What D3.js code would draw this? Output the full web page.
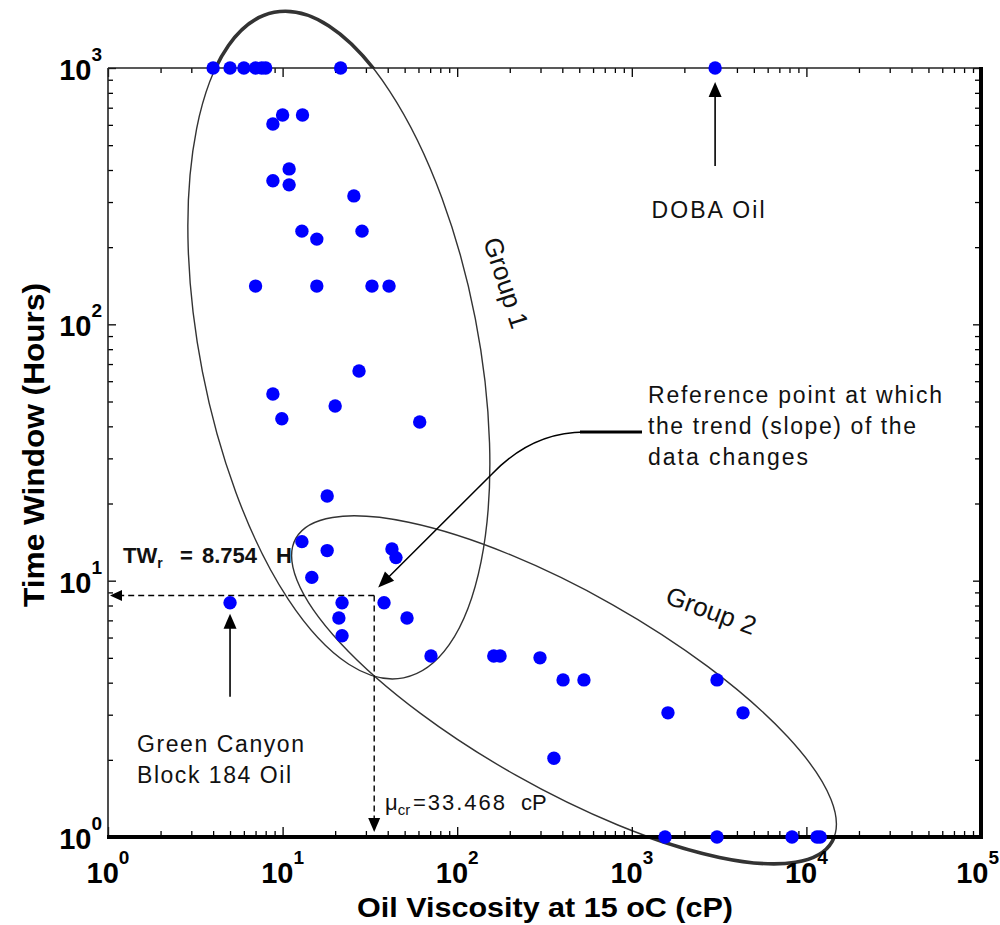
<!DOCTYPE html>
<html>
<head>
<meta charset="utf-8">
<script src="https://cdn.jsdelivr.net/npm/d3@7"></script>
<style>
  body { margin: 0; background: #fff; }
  svg { display: block; }
</style>
</head>
<body>
<svg id="chart" width="1000" height="925"></svg>
<script>
// Oil viscosity at 15 oC (cP) and the measured time window (hours), one entry per oil sample
const viscosity = [
  4, 5, 6, 7, 7.6, 8, 21.5, 3000,
  10, 13, 8.8, 10.9, 8.8, 10.9, 25.6, 12.9, 15.7, 28.5,
  7, 15.7, 32.5, 40.7, 27.4, 8.8, 20, 9.9, 61, 18,
  12.9, 18, 42.3, 44.6, 14.7, 21.9, 38.1, 5, 51.6, 21, 21.9,
  70.8, 162, 176, 298, 404, 532, 3076, 1611, 4335, 358,
  1550, 3076, 8270, 11500, 12000
];
const timeWindow = [
  1000, 1000, 1000, 1000, 1000, 1000, 1000, 1000,
  656, 656, 605, 404, 363, 350, 317, 231, 215, 231,
  141, 141, 141, 141, 65.8, 53.5, 48, 42.8, 41.6, 21.4,
  14.2, 13.1, 13.3, 12.3, 10.3, 8.2, 8.2, 8.2, 7.15, 7.15, 6.1,
  5.08, 5.08, 5.08, 5, 4.1, 4.1, 4.1, 3.05, 3.05, 2.03,
  1, 1, 1, 1, 1
];

// Axis decades (powers of ten)
const xTickExponents = [0, 1, 2, 3, 4, 5];
const yTickExponents = [0, 1, 2, 3];

// Reference point where the slope of the data changes
const muCritical = 33.468;   // cP
const twReference = 8.754;   // hours

// Annotated oils
const dobaOil = { visc: 3000, tw: 1000 };
const greenCanyonOil = { visc: 5, tw: 8.2 };

// Group envelopes: centre in data units
const group1Centre = { visc: 21, tw: 83 };
const group2Centre = { visc: 409, tw: 3.75 };

const svg = d3.select("#chart");
const plotLeft = 108, plotRight = 981, plotTop = 68, plotBottom = 837;

const x = d3.scaleLog().domain([1, 1e5]).range([plotLeft, plotRight]);
const y = d3.scaleLog().domain([1, 1000]).range([plotBottom, plotTop]);

const FONT = "'Liberation Sans', Arial, Helvetica, sans-serif";

// ---- group envelopes (ellipses) ----
const defs = svg.append("defs");
const outside = defs.append("clipPath").attr("id", "outside");
outside.append("rect").attr("x", 0).attr("y", 0).attr("width", 1000).attr("height", plotTop);
outside.append("rect").attr("x", 0).attr("y", plotBottom).attr("width", 1000).attr("height", 925 - plotBottom);

const ellipses = [
  { c: group1Centre, rx: 139, ry: 339, rot: -11 },
  { c: group2Centre, rx: 308, ry: 98, rot: 29.5 }
];
function drawEllipses(g, width) {
  g.selectAll("ellipse").data(ellipses).join("ellipse")
    .attr("cx", 0).attr("cy", 0)
    .attr("rx", d => d.rx).attr("ry", d => d.ry)
    .attr("transform", d => `translate(${x(d.c.visc)},${y(d.c.tw)}) rotate(${d.rot})`)
    .attr("fill", "none").attr("stroke", "#333").attr("stroke-width", width);
}
drawEllipses(svg.append("g"), 1.4);
drawEllipses(svg.append("g").attr("clip-path", "url(#outside)"), 3.6);

// ---- axes with log ticks pointing inward ----
function minorTicks(lo, hi) {
  const t = [];
  for (let p = lo; p < hi; p++) for (let k = 2; k <= 9; k++) t.push(k * Math.pow(10, p));
  return t;
}
const xMajor = xTickExponents.map(e => Math.pow(10, e));
const yMajor = yTickExponents.map(e => Math.pow(10, e));
const xMinor = minorTicks(0, 5);
const yMinor = minorTicks(0, 3);

function tickAxis(gen, scale, values, size, transform) {
  const g = svg.append("g").attr("transform", transform)
    .call(gen(scale).tickValues(values).tickSize(-size).tickFormat(""));
  g.select(".domain").remove();
  g.selectAll("line").attr("stroke", "#000").attr("stroke-width", 1.3);
}
tickAxis(d3.axisBottom, x, xMajor, 10, `translate(0,${plotBottom})`);
tickAxis(d3.axisBottom, x, xMinor, 6, `translate(0,${plotBottom})`);
tickAxis(d3.axisTop, x, xMajor, 9, `translate(0,${plotTop})`);
tickAxis(d3.axisTop, x, xMinor, 5, `translate(0,${plotTop})`);
tickAxis(d3.axisLeft, y, yMajor, 8, `translate(${plotLeft},0)`);
tickAxis(d3.axisLeft, y, yMinor, 5, `translate(${plotLeft},0)`);
tickAxis(d3.axisRight, y, yMajor, 8, `translate(${plotRight},0)`);
tickAxis(d3.axisRight, y, yMinor, 6, `translate(${plotRight},0)`);

// frame
const frame = svg.append("g").attr("stroke", "#000").attr("fill", "none");
frame.append("line").attr("x1", plotLeft).attr("x2", plotRight).attr("y1", plotTop).attr("y2", plotTop).attr("stroke-width", 1.6).attr("stroke", "#222");
frame.append("line").attr("x1", plotLeft).attr("x2", plotLeft).attr("y1", plotTop).attr("y2", plotBottom).attr("stroke-width", 1.6).attr("stroke", "#222");
frame.append("line").attr("x1", plotLeft - 1).attr("x2", plotRight + 2).attr("y1", plotBottom).attr("y2", plotBottom).attr("stroke-width", 4);
frame.append("line").attr("x1", plotRight).attr("x2", plotRight).attr("y1", plotTop - 1).attr("y2", plotBottom).attr("stroke-width", 4);

// tick labels 10^n (the last x label is kept inside the page edge)
const xLab = svg.append("g").attr("font-family", FONT).attr("font-weight", "bold");
xTickExponents.forEach((e, i) => {
  const last = i === xTickExponents.length - 1;
  const t = xLab.append("text")
    .attr("x", last ? 999 : x(Math.pow(10, e))).attr("y", 883)
    .attr("text-anchor", last ? "end" : "middle").attr("font-size", 29);
  t.append("tspan").text("10");
  t.append("tspan").attr("font-size", 19).attr("dy", -19).text(e);
});
const yLab = svg.append("g").attr("font-family", FONT).attr("font-weight", "bold");
yTickExponents.forEach(e => {
  const t = yLab.append("text").attr("x", 102).attr("y", y(Math.pow(10, e)) + 12)
    .attr("text-anchor", "end").attr("font-size", 29);
  t.append("tspan").text("10");
  t.append("tspan").attr("font-size", 19).attr("dy", -19).text(e);
});

// axis titles
svg.append("text").attr("x", 545).attr("y", 917).attr("text-anchor", "middle")
  .attr("font-family", FONT).attr("font-weight", "bold").attr("font-size", 28)
  .attr("textLength", 376).attr("lengthAdjust", "spacingAndGlyphs")
  .text("Oil Viscosity at 15 oC (cP)");
svg.append("text").attr("transform", "translate(44,445) rotate(-90)").attr("text-anchor", "middle")
  .attr("font-family", FONT).attr("font-weight", "bold").attr("font-size", 29)
  .attr("textLength", 324).attr("lengthAdjust", "spacingAndGlyphs")
  .text("Time Window (Hours)");

// ---- reference point guides ----
const rx = x(muCritical), ry = y(twReference);
const guides = svg.append("g").attr("stroke", "#000").attr("stroke-width", 1.4)
  .attr("stroke-dasharray", "6,4").attr("fill", "none");
guides.append("line").attr("x1", rx).attr("y1", ry).attr("x2", plotLeft + 12).attr("y2", ry);
guides.append("line").attr("x1", rx).attr("y1", ry).attr("x2", rx).attr("y2", plotBottom - 16);

function arrowHead(x1, y1, x2, y2, len, half) {
  const dx = x2 - x1, dy = y2 - y1, L = Math.hypot(dx, dy);
  const ux = dx / L, uy = dy / L;
  const bx = x2 - ux * len, by = y2 - uy * len;
  svg.append("path")
    .attr("d", `M${x2},${y2}L${bx - uy * half},${by + ux * half}L${bx + uy * half},${by - ux * half}Z`)
    .attr("fill", "#000");
}
arrowHead(rx, ry, plotLeft + 2, ry, 12, 5.5);
arrowHead(rx, ry, rx, plotBottom - 5, 14, 6);

// ---- data points ----
svg.append("g").selectAll("circle")
  .data(viscosity.map((v, i) => [v, timeWindow[i]]))
  .join("circle")
  .attr("cx", d => x(d[0])).attr("cy", d => y(d[1])).attr("r", 6.7)
  .attr("fill", "#0000ff");

// ---- annotations ----
const ann = svg.append("g").attr("stroke", "#000").attr("fill", "none");

// DOBA oil arrow
const dx0 = x(dobaOil.visc), dy0 = y(dobaOil.tw);
ann.append("line").attr("x1", dx0).attr("x2", dx0).attr("y1", dy0 + 98).attr("y2", dy0 + 24).attr("stroke-width", 1.6);
arrowHead(dx0, dy0 + 98, dx0, dy0 + 14, 15, 6.5);

// Green Canyon arrow
const gx = x(greenCanyonOil.visc), gy = y(greenCanyonOil.tw);
ann.append("line").attr("x1", gx).attr("x2", gx).attr("y1", gy + 94).attr("y2", gy + 24).attr("stroke-width", 1.6);
arrowHead(gx, gy + 94, gx, gy + 11, 15, 6.5);

// curved arrow to reference point
const tipX = rx + 4, tipY = ry - 8;
ann.append("path")
  .attr("d", `M640,432 L585,432 C545,432 515,450 492,474 L${tipX + 8},${tipY - 8}`)
  .attr("stroke-width", 1.5);
ann.append("line").attr("x1", 580).attr("x2", 642).attr("y1", 432).attr("y2", 432).attr("stroke-width", 3);
arrowHead(492, 474, tipX, tipY, 16, 6.5);

const txt = svg.append("g").attr("font-family", FONT).attr("fill", "#111");

txt.append("text").attr("x", 708).attr("y", 218).attr("text-anchor", "middle")
  .attr("font-size", 23).attr("textLength", 113).text("DOBA Oil");

[["Reference point at which", 403, 294], ["the trend (slope) of the", 434, 268], ["data changes", 465, 160]]
  .forEach(([s, yy, w]) => txt.append("text").attr("x", 648).attr("y", yy)
    .attr("font-size", 23).attr("textLength", w).text(s));

txt.append("text").attr("x", 137).attr("y", 752).attr("font-size", 23).attr("textLength", 167).text("Green Canyon");
txt.append("text").attr("x", 137).attr("y", 783).attr("font-size", 23).attr("textLength", 154).text("Block 184 Oil");

txt.append("text").attr("transform", "translate(483,241) rotate(72)").attr("font-size", 26).text("Group 1");
txt.append("text").attr("transform", "translate(664,603) rotate(20)").attr("font-size", 26).text("Group 2");

// TW_r label
const tw = txt.append("text").attr("y", 563).attr("font-size", 22).attr("font-weight", "bold");
tw.append("tspan").attr("x", 123).text("TW");
tw.append("tspan").attr("font-size", 14).attr("dy", 5).text("r");
tw.append("tspan").attr("x", 180).attr("dy", -5).text("=");
tw.append("tspan").attr("x", 202).text("8.754");
tw.append("tspan").attr("x", 276).text("H");

// mu_cr label
const mu = txt.append("text").attr("y", 810).attr("font-size", 22);
mu.append("tspan").attr("x", 385).text("μ");
mu.append("tspan").attr("font-size", 15).attr("dy", 5).text("cr");
mu.append("tspan").attr("x", 413).attr("dy", -5).attr("textLength", 92).text("=33.468");
mu.append("tspan").attr("x", 521).text("cP");
</script>
</body>
</html>
